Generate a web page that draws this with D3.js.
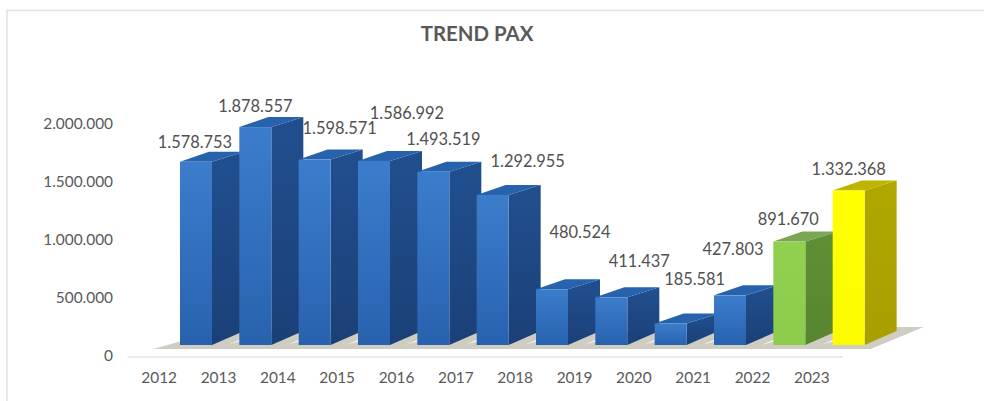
<!DOCTYPE html>
<html>
<head>
<meta charset="utf-8">
<script src="https://cdn.jsdelivr.net/npm/d3@7"></script>
<style>
  html, body { margin: 0; padding: 0; background: #fff; }
  svg { display: block; }
  text { font-family: Lato, "Open Sans", sans-serif; }
</style>
</head>
<body>
<script>
var years = ["2012","2013","2014","2015","2016","2017","2018","2019","2020","2021","2022","2023"];
var pax = [1578753,1878557,1598571,1586992,1493519,1292955,480524,411437,185581,427803,891670,1332368];
var yTicks = [0,500000,1000000,1500000,2000000];
var title = "TREND PAX";

var w = 984, h = 401;

var svg = d3.select("body").append("svg").attr("width", w).attr("height", h);

// thousands separated with dots
var fmt = d3.formatLocale({decimal: ",", thousands: ".", grouping: [3], currency: ["", ""]}).format(",d");

var xScale = d3.scaleBand().domain(years).range([129.5, 841.5]);
var yScale = d3.scaleLinear().domain([0, 2000000]).range([355, 123]);

// the bars stand in front of the axis labels, shifted like the 3d chart does
var barW = 32, barShift = 50.5, floorShift = -10;
var depthX = 32, depthTop = -10, depthBottom = -14;

// labels were dragged by hand in the original: offset from top centre of bar
var labelDx = [-1,0,25,33,10,35,28,28,24,3,-1,0];
var labelDy = [-20,-22,-32,-48,-33,-35,-58,-37,-45,-47,-23,-22];

function colours(year) {
  if (year == "2022") return {a: "#92d050", b: "#8ccb4c", sideA: "#5f8f35", sideB: "#578530", top: "#7ba655"};
  if (year == "2023") return {a: "#ffff00", b: "#fdfd00", sideA: "#b0a800", sideB: "#a89f00", top: "#bdb500"};
  return {a: "#3b7dcc", b: "#2862ae", sideA: "#214f8e", sideB: "#1b4078", top: "#2763ad"};
}

var defs = svg.append("defs");
years.forEach(function(y) {
  var c = colours(y);
  var g = defs.append("linearGradient").attr("id", "front" + y)
    .attr("x1", 0).attr("x2", 0).attr("y1", 0).attr("y2", 1);
  g.append("stop").attr("offset", 0).attr("stop-color", c.a);
  g.append("stop").attr("offset", 1).attr("stop-color", c.b);
  var s = defs.append("linearGradient").attr("id", "side" + y)
    .attr("x1", 0).attr("x2", 0).attr("y1", 0).attr("y2", 1);
  s.append("stop").attr("offset", 0).attr("stop-color", c.sideA);
  s.append("stop").attr("offset", 1).attr("stop-color", c.sideB);
});

// chart frame
svg.append("path").attr("d", "M7 401V10.5H984").attr("fill", "none").attr("stroke", "#e2e2e2").attr("stroke-width", 1.5);

// floor shadows
svg.append("g").selectAll("polygon").data(years).enter().append("polygon")
  .attr("points", function(y) {
    var x = xScale(y) + barShift, b = yScale(0) + floorShift;
    return [[x - 27, b + 4], [x + barW + 6, b + 4], [x + barW + 59, b - 18], [x + barW + 20, b - 18]].join(" ");
  })
  .attr("fill", "#cfcdc2");

// axes
var xAxis = d3.axisBottom(xScale).tickSize(0).tickPadding(15);
var yAxis = d3.axisLeft(yScale).tickValues(yTicks).tickSize(0).tickPadding(0).tickFormat(fmt);

var gx = svg.append("g").attr("transform", "translate(0,357)").call(xAxis);
gx.select(".domain").attr("stroke", "#e4e4e4").attr("stroke-width", 1.5).attr("d", "M128 0H843");
var gy = svg.append("g").attr("transform", "translate(113,1)").call(yAxis);
gy.select(".domain").remove();
svg.selectAll(".tick text").style("font-size", "15.4px").style("font-family", "Lato").attr("fill", "#595959");

// bars, left to right so each one covers the side of the previous one
var bars = svg.append("g").selectAll("g").data(years).enter().append("g");

bars.append("polygon")
  .attr("points", function(y, i) {
    var x = xScale(y) + barShift + barW, t = yScale(pax[i]) + floorShift, b = yScale(0) + floorShift;
    return [[x, t], [x + depthX, t + depthTop], [x + depthX, b + depthBottom], [x, b]].join(" ");
  })
  .attr("fill", function(y) { return "url(#side" + y + ")"; });

bars.append("polygon")
  .attr("points", function(y, i) {
    var x = xScale(y) + barShift, t = yScale(pax[i]) + floorShift;
    return [[x, t], [x + barW, t], [x + barW + depthX, t + depthTop], [x + depthX - 3, t + depthTop]].join(" ");
  })
  .attr("fill", function(y) { return colours(y).top; });

bars.append("rect")
  .attr("x", function(y) { return xScale(y) + barShift; })
  .attr("y", function(y, i) { return yScale(pax[i]) + floorShift; })
  .attr("width", barW)
  .attr("height", function(y, i) { return yScale(0) - yScale(pax[i]); })
  .attr("fill", function(y) { return "url(#front" + y + ")"; });

// value labels
svg.append("g").selectAll("text").data(years).enter().append("text")
  .attr("x", function(y, i) { return xScale(y) + barShift + barW / 2 + labelDx[i]; })
  .attr("y", function(y, i) { return yScale(pax[i]) + floorShift + labelDy[i]; })
  .attr("text-anchor", "middle")
  .attr("dominant-baseline", "central")
  .style("font-size", "16.4px")
  .attr("fill", "#505050")
  .text(function(y, i) { return fmt(pax[i]); });

svg.append("text")
  .attr("x", 477)
  .attr("y", 41)
  .attr("text-anchor", "middle")
  .style("font-size", "20.4px")
  .style("font-weight", "bold")
  .attr("fill", "#595959")
  .text(title);
</script>
</body>
</html>
